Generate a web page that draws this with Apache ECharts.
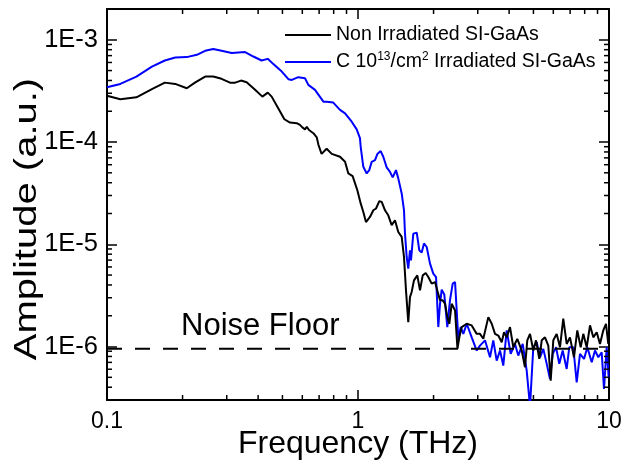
<!DOCTYPE html>
<html>
<head>
<meta charset="utf-8">
<script src="https://cdn.jsdelivr.net/npm/echarts@6/dist/echarts.min.js"></script>
<style>html,body{margin:0;padding:0;background:#fff}#c{width:624px;height:464px}</style>
</head>
<body>
<div id="c"></div>
<script>
const seriesNames = ['Non Irradiated SI-GaAs', 'C 10^13/cm^2 Irradiated SI-GaAs'];
const xTickLabels = ['0.1', '1', '10'];
const yTickLabels = ['1E-6', '1E-5', '1E-4', '1E-3'];
const xTitle = 'Frequency (THz)';
const yTitle = 'Amplitude (a.u.)';
const noiseFloor = 9.5e-7;
const noiseLabel = 'Noise Floor';

const freqNon = [0.1,0.113,0.131,0.151,0.170,0.187,0.208,0.224,0.246,0.265,
0.286,0.309,0.324,0.342,0.360,0.389,0.416,0.437,0.453,0.481,
0.509,0.536,0.570,0.587,0.600,0.615,0.625,0.638,0.664,0.685,
0.696,0.716,0.750,0.786,0.848,0.888,0.915,0.952,0.994,1.025,
1.050,1.076,1.116,1.151,1.180,1.216,1.243,1.281,1.320,1.362,
1.404,1.447,1.493,1.525,1.553,1.586,1.611,1.636,1.671,1.723,
1.766,1.811,1.861,1.906,1.966,2.027,2.070,2.122,2.175,2.222,
2.269,2.311,2.362,2.436,2.490,2.533,2.589,2.711,2.838,2.971,
3.062,3.157,3.305,3.410,3.515,3.622,3.737,3.817,3.912,4.033,
4.157,4.312,4.490,4.627,4.726,4.845,4.994,5.120,5.277,5.395,
5.559,5.730,5.857,5.999,6.188,6.378,6.574,6.783,6.991,7.252,
7.476,7.713,7.900,8.151,8.401,8.659,8.934,9.208,9.490,9.727,9.935];
const ampNon = [2.83e-4,2.62e-4,2.74e-4,3.29e-4,3.81e-4,3.70e-4,3.36e-4,3.81e-4,4.37e-4,4.37e-4,
4.15e-4,3.81e-4,3.81e-4,3.99e-4,3.85e-4,3.24e-4,2.78e-4,3.04e-4,2.78e-4,2.14e-4,
1.67e-4,1.55e-4,1.53e-4,1.47e-4,1.39e-4,1.33e-4,1.41e-4,1.31e-4,1.22e-4,1.11e-4,
9.35e-5,7.66e-5,8.60e-5,7.66e-5,7.18e-5,6.41e-5,4.93e-5,4.64e-5,3.38e-5,2.51e-5,
2.07e-5,1.65e-5,1.85e-5,2.15e-5,2.24e-5,2.64e-5,2.60e-5,2.15e-5,1.92e-5,1.54e-5,
1.72e-5,1.32e-5,1.18e-5,7.51e-6,3.54e-6,1.73e-6,3.04e-6,3.41e-6,4.44e-6,4.97e-6,
3.54e-6,4.97e-6,5.23e-6,4.78e-6,4.12e-6,4.27e-6,3.54e-6,2.83e-6,2.83e-6,2.62e-6,
1.94e-6,1.67e-6,2.62e-6,2.25e-6,9.5e-7,1.23e-6,1.55e-6,1.67e-6,1.61e-6,1.33e-6,
1.33e-6,1.19e-6,1.94e-6,1.67e-6,1.33e-6,1.28e-6,1.10e-6,1.38e-6,1.23e-6,1.55e-6,
9.84e-7,1.19e-6,9.14e-7,6.27e-7,1.15e-6,1.33e-6,9.14e-7,1.15e-6,7.57e-7,1.15e-6,
1.23e-6,1.02e-6,4.64e-7,1.15e-6,1.33e-6,9.84e-7,1.87e-6,1.06e-6,1.23e-6,7.85e-7,
1.44e-6,9.84e-7,1.33e-6,9.84e-7,1.61e-6,1.23e-6,1.38e-6,1.06e-6,1.44e-6,1.67e-6,1.06e-6];

const freqIrr = [0.1,0.113,0.131,0.151,0.170,0.187,0.208,0.228,0.246,0.265,
0.286,0.314,0.355,0.383,0.413,0.437,0.460,0.497,0.528,0.545,
0.578,0.615,0.634,0.674,0.728,0.750,0.797,0.848,0.888,0.944,
0.988,1.018,1.025,1.050,1.083,1.109,1.134,1.169,1.194,1.231,
1.261,1.301,1.341,1.375,1.417,1.447,1.493,1.525,1.539,1.563,
1.586,1.611,1.626,1.661,1.714,1.755,1.794,1.832,1.878,1.936,
1.995,2.046,2.089,2.122,2.155,2.207,2.269,2.325,2.384,2.436,
2.510,2.566,2.628,2.711,2.838,2.971,3.062,3.206,3.357,3.459,
3.569,3.679,3.792,3.912,4.058,4.221,4.351,4.531,4.700,4.845,
4.994,5.152,5.311,5.474,5.648,5.821,5.968,6.151,6.337,6.539,
6.783,6.946,7.206,7.435,7.664,7.952,8.196,8.533,8.796,9.066,
9.352,9.552,9.790,9.970];
const ampIrr = [3.44e-4,3.70e-4,4.37e-4,5.47e-4,6.27e-4,6.71e-4,6.77e-4,7.13e-4,7.80e-4,8.11e-4,
7.80e-4,7.41e-4,7.58e-4,6.86e-4,6.27e-4,6.51e-4,5.78e-4,4.89e-4,4.12e-4,4.05e-4,
4.31e-4,4.21e-4,3.62e-4,3.24e-4,2.48e-4,2.48e-4,2.43e-4,2.06e-4,1.91e-4,1.58e-4,
1.33e-4,1.09e-4,8.99e-5,5.73e-5,4.93e-5,5.31e-5,6.41e-5,6.66e-5,7.63e-5,8.16e-5,
7.18e-5,5.65e-5,5.11e-5,4.51e-5,5.31e-5,4.41e-5,3.14e-5,2.15e-5,1.27e-5,7.51e-6,
5.78e-6,8.73e-6,6.97e-6,1.27e-5,1.30e-5,8.73e-6,8.29e-6,1.02e-5,9.41e-6,6.47e-6,
5.16e-6,4.78e-6,1.55e-6,2.62e-6,3.60e-6,3.23e-6,1.55e-6,2.83e-6,4.12e-6,4.27e-6,
1.19e-6,1.55e-6,1.33e-6,1.67e-6,1.23e-6,9.14e-7,1.02e-6,1.15e-6,7.85e-7,1.15e-6,
7.29e-7,9.14e-7,6.51e-7,1.44e-6,8.48e-7,1.06e-6,8.16e-7,1.06e-6,5.82e-7,2.6e-7,
9.84e-7,1.10e-6,7.85e-7,9.49e-7,6.77e-7,4.82e-7,8.48e-7,9.84e-7,6.77e-7,9.14e-7,
6.04e-7,9.84e-7,9.84e-7,4.47e-7,8.48e-7,7.57e-7,9.84e-7,7.02e-7,9.14e-7,7.85e-7,
8.79e-7,3.85e-7,9.84e-7,5.0e-7];

const X_MIN = 0.1, X_MAX = 10, Y_MIN = 3e-7, Y_MAX = 2e-3;
const FONT = 'Liberation Sans, Arial, Helvetica, sans-serif';

function zip(a, b) { return a.map((v, i) => [v, b[i]]); }

// minor tick positions (2..9 x 10^n)
const xMinor = [], yMinor = [];
for (let e = -1; e <= 0; e++) for (let m = 2; m <= 9; m++) xMinor.push([m * Math.pow(10, e), 1e-5]);
for (let e = -7; e <= -3; e++) for (let m = 2; m <= 9; m++) {
  const v = m * Math.pow(10, e);
  if (v > Y_MIN * 1.001 && v < Y_MAX * 0.999) yMinor.push([1, v]);
}

const chart = echarts.init(document.getElementById('c'), null, {renderer: 'canvas'});

function fmtX(v) {
  const e = Math.log10(v);
  if (Math.abs(e - Math.round(e)) > 1e-6) return '';
  return xTickLabels[Math.round(e) + 1] || '';
}
function fmtY(v) {
  const e = Math.log10(v);
  if (Math.abs(e - Math.round(e)) > 1e-6) return '';
  return yTickLabels[Math.round(e) + 6] || '';
}

const axisLineStyle = {show: true, lineStyle: {color: '#000', width: 2}};
const majorTick = {show: true, inside: true, length: 10, lineStyle: {color: '#000', width: 1.5}};

const option = {
  animation: false,
  backgroundColor: '#fff',
  grid: {left: 107, right: 15, top: 9, bottom: 64, containLabel: false, outerBoundsMode: 'none'},
  legend: {
    data: seriesNames,
    orient: 'vertical',
    left: 285, top: 24, padding: 0,
    icon: 'rect',
    itemWidth: 46, itemHeight: 2, itemGap: 5,
    textStyle: {
      fontFamily: FONT, fontSize: 19.5, color: '#000', lineHeight: 22,
      rich: {
        t: {fontFamily: FONT, fontSize: 19.5, color: '#000', lineHeight: 22},
        s: {fontFamily: FONT, fontSize: 12, color: '#000', verticalAlign: 'top', lineHeight: 12}
      }
    },
    formatter: function (name) {
      if (name === seriesNames[1]) return '{t|C 10}{s|13}{t|/cm}{s|2}{t| Irradiated SI-GaAs}';
      return name;
    }
  },
  xAxis: [{
    type: 'log', min: X_MIN, max: X_MAX, logBase: 10,
    name: xTitle, nameLocation: 'middle', nameGap: 28, nameMoveOverlap: false,
    nameTextStyle: {fontFamily: FONT, fontSize: 32, color: '#000'},
    axisLine: axisLineStyle, axisTick: majorTick,
    axisLabel: {formatter: fmtX, fontFamily: FONT, fontSize: 23, color: '#000', margin: 10, showMinLabel: true, showMaxLabel: true},
    splitLine: {show: false}
  }, {
    type: 'log', min: X_MIN, max: X_MAX, position: 'top',
    axisLine: axisLineStyle, axisTick: majorTick,
    axisLabel: {show: false}, splitLine: {show: false}
  }],
  yAxis: [{
    type: 'log', min: Y_MIN, max: Y_MAX, logBase: 10,
    axisLine: axisLineStyle, axisTick: majorTick,
    axisLabel: {formatter: fmtY, fontFamily: FONT, fontSize: 25.5, color: '#000', margin: 9},
    splitLine: {show: false}
  }, {
    type: 'log', min: Y_MIN, max: Y_MAX, position: 'right',
    axisLine: axisLineStyle, axisTick: majorTick,
    axisLabel: {show: false}, splitLine: {show: false}
  }],
  graphic: [{
    type: 'text', left: 181, top: 311, silent: true,
    style: {text: noiseLabel, font: '31px ' + FONT, fill: '#000'}
  }, {
    type: 'text', x: 27, y: 219, rotation: Math.PI / 2, scaleX: 1.25, silent: true,
    style: {text: yTitle, font: '32px ' + FONT, fill: '#000', align: 'center', verticalAlign: 'middle'}
  }],
  series: [
    {
      name: seriesNames[0], type: 'line', data: zip(freqNon, ampNon),
      showSymbol: false, symbol: 'none', clip: true,
      lineStyle: {color: '#000', width: 2}, itemStyle: {color: '#000'}, z: 3
    },
    {
      name: seriesNames[1], type: 'line', data: zip(freqIrr, ampIrr),
      showSymbol: false, symbol: 'none', clip: true,
      lineStyle: {color: '#0000ff', width: 2}, itemStyle: {color: '#0000ff'}, z: 2
    },
    {
      name: 'noise', type: 'line', data: [[X_MIN, noiseFloor], [X_MAX, noiseFloor]],
      showSymbol: false, symbol: 'none',
      lineStyle: {color: '#000', width: 2, type: [15, 13]}, z: 4
    },
    {
      name: 'xminor', type: 'custom', data: xMinor, silent: true, z: 5,
      renderItem: function (params, api) {
        const p = api.coord([api.value(0), api.value(1)]);
        const cs = params.coordSys;
        const yb = cs.y + cs.height, yt = cs.y;
        return {type: 'group', children: [
          {type: 'line', shape: {x1: p[0], y1: yb, x2: p[0], y2: yb - 5}, style: {stroke: '#000', lineWidth: 1.5}},
          {type: 'line', shape: {x1: p[0], y1: yt, x2: p[0], y2: yt + 5}, style: {stroke: '#000', lineWidth: 1.5}}
        ]};
      }
    },
    {
      name: 'yminor', type: 'custom', data: yMinor, silent: true, z: 5,
      renderItem: function (params, api) {
        const p = api.coord([api.value(0), api.value(1)]);
        const cs = params.coordSys;
        const xl = cs.x, xr = cs.x + cs.width;
        return {type: 'group', children: [
          {type: 'line', shape: {x1: xl, y1: p[1], x2: xl + 5, y2: p[1]}, style: {stroke: '#000', lineWidth: 1.5}},
          {type: 'line', shape: {x1: xr, y1: p[1], x2: xr - 5, y2: p[1]}, style: {stroke: '#000', lineWidth: 1.5}}
        ]};
      }
    }
  ]
};
chart.setOption(option);
</script>
</body>
</html>
